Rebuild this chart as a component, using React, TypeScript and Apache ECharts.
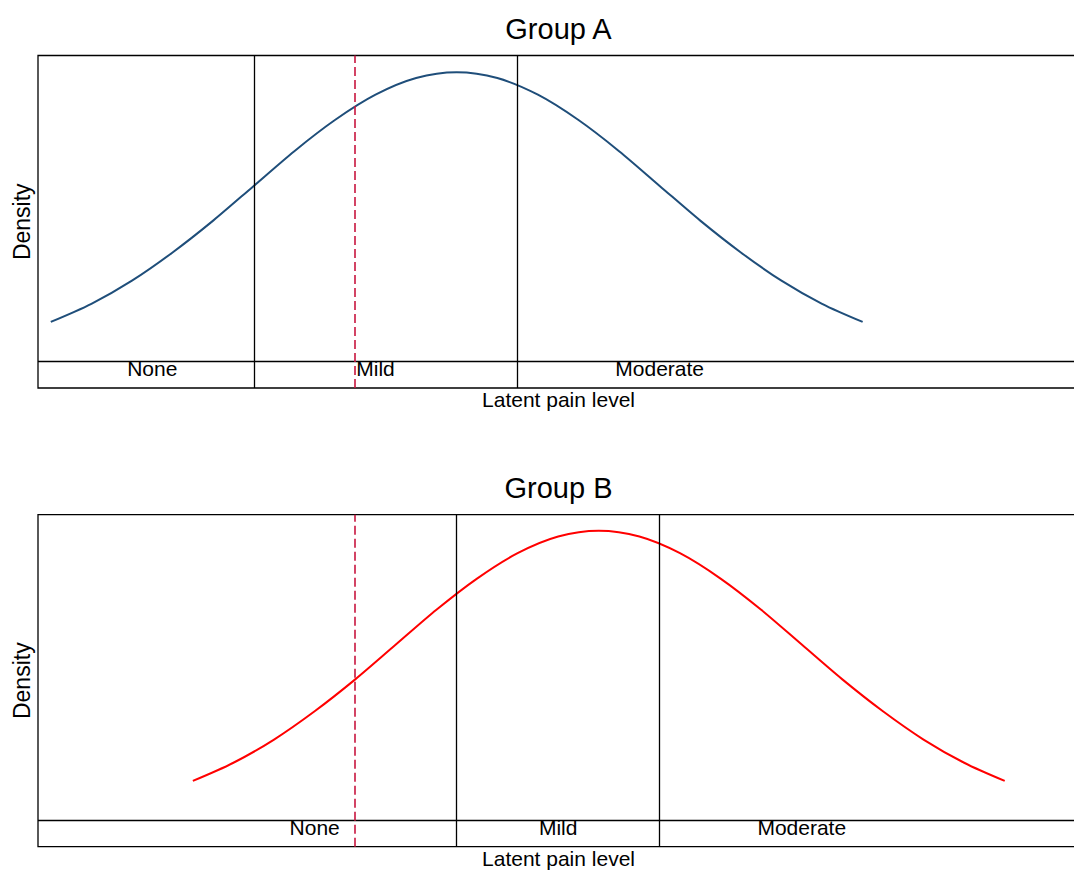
import React, { useEffect, useRef } from "react";
import * as echarts from "echarts";

// Latent scale (Group A: mean 0, sd 1)
const curveAX = [-2, -1.8, -1.6, -1.4, -1.2, -1, -0.8, -0.6, -0.4, -0.2, 0, 0.2, 0.4, 0.6, 0.8, 1, 1.2, 1.4, 1.6, 1.8, 2];
const curveAY = [0.054, 0.079, 0.111, 0.15, 0.194, 0.242, 0.29, 0.333, 0.368, 0.391, 0.399, 0.391, 0.368, 0.333, 0.29, 0.242, 0.194, 0.15, 0.111, 0.079, 0.054];
const curveBX = [-1.3, -1.1, -0.9, -0.7, -0.5, -0.3, -0.1, 0.1, 0.3, 0.5, 0.7, 0.9, 1.1, 1.3, 1.5, 1.7, 1.9, 2.1, 2.3, 2.5, 2.7];
const curveBY = [0.054, 0.079, 0.111, 0.15, 0.194, 0.242, 0.29, 0.333, 0.368, 0.391, 0.399, 0.391, 0.368, 0.333, 0.29, 0.242, 0.194, 0.15, 0.111, 0.079, 0.054];

const categories = ["None", "Mild", "Moderate"];
const labelPosA = [-1.5, -0.4, 1.0];
const labelPosB = [-0.7, 0.5, 1.7];
const thresholdsA = [-1, 0.3];
const thresholdsB = [0, 1];
const referenceLine = -0.5;

const groups = ["Group A", "Group B"];
const FONT = "Liberation Sans, Arial, sans-serif";

export default function App() {
  const ref = useRef<HTMLDivElement>(null);
  useEffect(() => {
    if (!ref.current) return;
    const chart = echarts.init(ref.current, null, { renderer: "svg" });
    const X_MIN = -2.063;
    const X_MAX = 3.066;
    const panels = [
      { top: 55.5, height: 332.5, x: curveAX, y: curveAY, color: "#1f4e7a", labels: labelPosA, th: thresholdsA, ymin: -0.0373, ymax: 0.4222 },
      { top: 514.7, height: 332, x: curveBX, y: curveBY, color: "#ff0000", labels: labelPosB, th: thresholdsB, ymin: -0.0368, ymax: 0.4211 },
    ];
    const black = { color: "#000", width: 1.3, type: "solid" as const };
    const option: any = {
      animation: false,
      grid: panels.map((p) => ({
        left: 38, top: p.top, width: 1041, height: p.height,
        show: true, borderColor: "#000", borderWidth: 1.3, backgroundColor: "transparent",
      })),
      xAxis: panels.map((p, i) => ({
        type: "value", gridIndex: i, min: X_MIN, max: X_MAX,
        axisLine: { show: false }, axisTick: { show: false }, axisLabel: { show: false }, splitLine: { show: false },
        name: "Latent pain level", nameLocation: "middle", nameGap: 1,
        nameTextStyle: { fontFamily: FONT, fontSize: 21, color: "#000", verticalAlign: "top" },
      })),
      yAxis: panels.map((p, i) => ({
        type: "value", gridIndex: i, min: p.ymin, max: p.ymax,
        axisLine: { show: false }, axisTick: { show: false }, axisLabel: { show: false }, splitLine: { show: false },
        name: "Density", nameLocation: "middle", nameGap: 5, nameRotate: 90,
        nameTextStyle: { fontFamily: FONT, fontSize: 23, color: "#000" },
      })),
      graphic: groups.map((g, i) => ({
        type: "text", x: 558.5, y: i === 0 ? 29 : 29 + 459.2,
        style: { text: g, fontFamily: FONT, fontSize: 29, fill: "#000", align: "center", verticalAlign: "middle" },
      })),
      series: panels.flatMap((p, i) => [
        {
          type: "line", xAxisIndex: i, yAxisIndex: i,
          data: p.x.map((v, k) => [v, p.y[k]]),
          smooth: 0.3, showSymbol: false, symbol: "none",
          lineStyle: { color: p.color, width: 2 },
          markLine: {
            silent: true, symbol: "none", label: { show: false },
            lineStyle: black,
            data: [
              { yAxis: 0 },
              ...p.th.map((t) => ({ xAxis: t })),
              { xAxis: referenceLine, lineStyle: { color: "#c8163f", width: 1.6, type: [9, 4] } },
            ],
          },
          z: 3,
        },
        {
          type: "scatter", xAxisIndex: i, yAxisIndex: i, symbolSize: 0,
          data: categories.map((c, k) => ({ name: c, value: [p.labels[k], -0.0105] })),
          label: {
            show: true, position: "inside", formatter: "{b}", fontFamily: FONT, fontSize: 21,
            color: "#000", textBorderWidth: 0, opacity: 1,
          },
          silent: true, z: 4,
        },
      ]),
    };
    chart.setOption(option);
    return () => chart.dispose();
  }, []);
  return (
    <div style={{ position: "fixed", left: 0, top: 0, width: 1074, height: 875, overflow: "hidden", background: "#fff" }}>
      <div ref={ref} style={{ width: 1100, height: 875 }} />
    </div>
  );
}
